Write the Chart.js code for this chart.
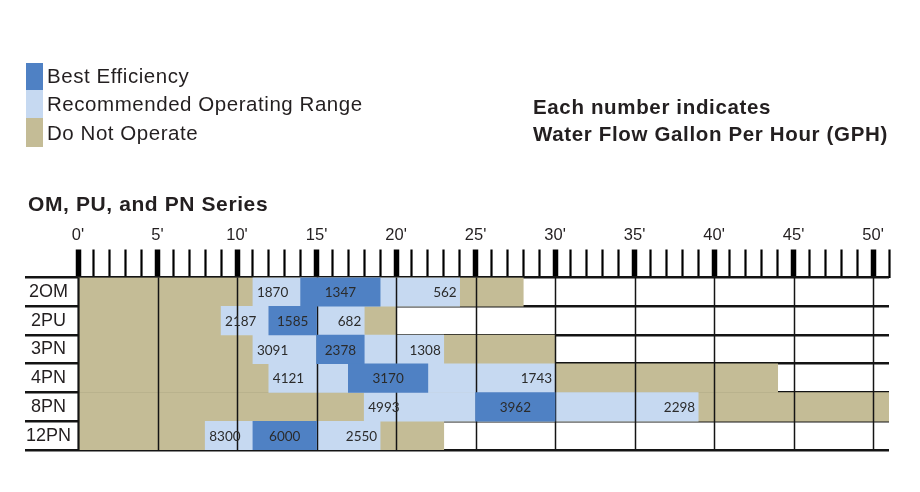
<!DOCTYPE html>
<html>
<head>
<meta charset="utf-8">
<script src="https://cdn.jsdelivr.net/npm/chart.js@4/dist/chart.umd.min.js"></script>
<style>
  html, body { margin: 0; padding: 0; background: #fff; }
  #wrap { position: relative; width: 920px; height: 492px; overflow: hidden; font-family: "Liberation Sans", Arial, sans-serif; color: #231f20; }
  #c { position: absolute; left: 0; top: 0; }
  .sw { position: absolute; left: 26px; width: 17px; }
  .lt { position: absolute; left: 47px; font-size: 20.5px; letter-spacing: 0.55px; line-height: 28.5px; white-space: nowrap; }
  .bold { position: absolute; font-weight: bold; white-space: nowrap; }
</style>
</head>
<body>
<div id="wrap">
  <canvas id="c" width="920" height="492"></canvas>
  <div id="legend"></div>
  <div class="bold" style="left:533px; top:94px; font-size:20.5px; letter-spacing:0.65px; line-height:26.5px;">Each number indicates<br>Water Flow Gallon Per Hour (GPH)</div>
  <div class="bold" style="left:28px; top:192px; font-size:21px; letter-spacing:0.6px; line-height:24px;">OM, PU, and PN Series</div>
</div>
<script>
// ---- data (feet of head / gallons per hour) ----
const models      = ['2OM', '2PU', '3PN', '4PN', '8PN', '12PN'];
const maxHead     = [28, 20, 30, 44, 51, 23];   // end of "Do Not Operate" band
const rangeStart  = [11, 9, 11, 12, 18, 8];     // start of recommended range
const rangeEnd    = [24, 18, 23, 30, 39, 19];   // end of recommended range
const bestStart   = [14, 12, 15, 17, 25, 11];   // start of best efficiency
const bestEnd     = [19, 15, 18, 22, 30, 15];   // end of best efficiency
const gphLow      = [1870, 2187, 3091, 4121, 4993, 8300];
const gphBest     = [1347, 1585, 2378, 3170, 3962, 6000];
const gphHigh     = [562, 682, 1308, 1743, 2298, 2550];
const axisMax     = 51;
const seriesNames = ['Best Efficiency', 'Recommended Operating Range', 'Do Not Operate'];
const colors      = ['#4f81c4', '#c6d9f1', '#c4bc96'];

// ---- legend (HTML) ----
const legend = document.getElementById('legend');
const swTops = [63, 90, 118], swH = [27, 28, 29];
seriesNames.forEach((n, i) => {
  const s = document.createElement('div');
  s.className = 'sw';
  s.style.top = swTops[i] + 'px';
  s.style.height = swH[i] + 'px';
  s.style.background = colors[i];
  legend.appendChild(s);
  const t = document.createElement('div');
  t.className = 'lt';
  t.style.top = (61.5 + i * 28.5) + 'px';
  t.textContent = n;
  legend.appendChild(t);
});

const pair = (a, b) => a.map((v, i) => [v, b[i]]);
const zeros = models.map(() => 0);

const gridPlugin = {
  id: 'gridUnderBest',
  beforeDatasetDraw(chart, args) {
    if (args.index !== 2) return;
    const {ctx, chartArea, scales: {x}} = chart;
    ctx.save();
    ctx.strokeStyle = '#141414';
    for (let v = 0; v <= 50; v += 5) {
      const px = Math.round(x.getPixelForValue(v)) + 0.5;
      ctx.lineWidth = v === 0 ? 2.2 : 1.5;
      ctx.beginPath();
      ctx.moveTo(px, chartArea.top);
      ctx.lineTo(px, chartArea.bottom);
      ctx.stroke();
    }
    ctx.restore();
  }
};

const labelPlugin = {
  id: 'gphLabels',
  afterDatasetsDraw(chart) {
    const {ctx} = chart;
    ctx.save();
    ctx.font = '13.5px Lato, "Open Sans", sans-serif';
    ctx.fillStyle = '#2b2b2b';
    ctx.textBaseline = 'middle';
    const light = chart.getDatasetMeta(1).data;
    const best = chart.getDatasetMeta(2).data;
    models.forEach((m, i) => {
      const l = light[i], b = best[i];
      const y = l.y + 1;
      const lLeft = Math.min(l.x, l.base), lRight = Math.max(l.x, l.base);
      ctx.textAlign = 'left';
      ctx.fillText(String(gphLow[i]), lLeft + 4, y);
      ctx.textAlign = 'right';
      ctx.fillText(String(gphHigh[i]), lRight - 3, y);
      ctx.textAlign = 'center';
      ctx.fillText(String(gphBest[i]), (b.x + b.base) / 2, y);
    });
    ctx.restore();
  }
};

new Chart(document.getElementById('c'), {
  type: 'bar',
  data: {
    labels: models,
    datasets: [
      { label: seriesNames[2], data: pair(zeros, maxHead), backgroundColor: colors[2], order: 2 },
      { label: seriesNames[1], data: pair(rangeStart, rangeEnd), backgroundColor: colors[1], order: 1 },
      { label: seriesNames[0], data: pair(bestStart, bestEnd), backgroundColor: colors[0], order: 0 }
    ]
  },
  options: {
    indexAxis: 'y',
    responsive: false,
    animation: false,
    devicePixelRatio: 1,
    layout: { padding: { left: 22, right: 31, top: 222.5, bottom: 42 } },
    datasets: { bar: { grouped: false, barPercentage: 1, categoryPercentage: 1, borderWidth: 0, borderSkipped: false } },
    plugins: { legend: { display: false }, tooltip: { enabled: false }, title: { display: false } },
    scales: {
      x: {
        position: 'top',
        min: 0, max: axisMax,
        border: { display: false },
        grid: {
          drawOnChartArea: false,
          drawTicks: true,
          tickLength: 28,
          tickColor: '#000',
          tickWidth: c => (c.tick && c.tick.value % 5 === 0) ? 5.5 : 2.2
        },
        ticks: {
          stepSize: 1, autoSkip: false, maxRotation: 0, padding: 4,
          color: '#231f20',
          font: { family: '"Liberation Sans", Arial, sans-serif', size: 16.5 },
          callback: v => (v % 5 === 0 ? v + "'" : '')
        },
        afterFit: s => { s.height = 55; }
      },
      y: {
        z: 1,
        border: { display: false },
        grid: {
          offset: true,
          color: '#141414',
          lineWidth: 2.6,
          drawTicks: true,
          tickLength: 53,
          tickColor: '#141414',
          tickWidth: 2.6
        },
        ticks: {
          crossAlign: 'center',
          padding: -46,
          color: '#231f20',
          font: { family: '"Liberation Sans", Arial, sans-serif', size: 18 }
        },
        afterFit: s => { s.width = 56; }
      }
    }
  },
  plugins: [gridPlugin, labelPlugin]
});
</script>
</body>
</html>
